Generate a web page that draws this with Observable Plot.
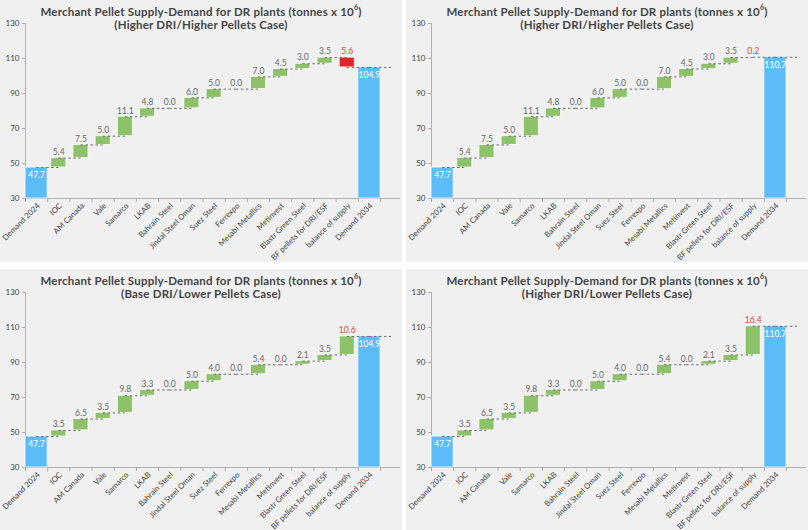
<!DOCTYPE html>
<html><head><meta charset="utf-8">
<script src="https://cdn.jsdelivr.net/npm/d3@7"></script>
<script src="https://cdn.jsdelivr.net/npm/@observablehq/plot@0.6"></script>
<style>
body{margin:0;background:#fff;font-family:Lato,"Open Sans",sans-serif;}
#wrap{position:relative;width:810px;height:530px;}
.panel{position:absolute;background:#f0f0f0;overflow:hidden;}
.panel svg{position:absolute;left:0;top:0;}
.title{position:absolute;left:0;right:0;text-align:center;font-weight:bold;font-size:11.5px;letter-spacing:0.2px;line-height:12px;height:12px;color:#444;z-index:2;white-space:nowrap;}
.title sup{font-size:7px;line-height:0;position:relative;top:1px;vertical-align:top;}
</style></head><body><div id="wrap"></div>
<script>
const categories = ["Demand 2024","IOC","AM Canada","Vale","Samarco","LKAB","Bahrain Steel","Jindal Steel Oman","Suez Steel","Ferrexpo","Mesabi Metallics","Metinvest","Blastr Green Steel","BF pellets for DRI/ESF","balance of supply","Demand 2034"];
const demand2024 = 47.7;
const supplyHigherPellets = [5.4, 7.5, 5.0, 11.1, 4.8, 0.0, 6.0, 5.0, 0.0, 7.0, 4.5, 3.0, 3.5];
const supplyLowerPellets = [3.5, 6.5, 3.5, 9.8, 3.3, 0.0, 5.0, 4.0, 0.0, 5.4, 0.0, 2.1, 3.5];
const caseNames = ["(Higher DRI/Higher Pellets Case)", "(Higher DRI/Higher Pellets Case)", "(Base DRI/Lower Pellets Case)", "(Higher DRI/Lower Pellets Case)"];
const caseSupply = [supplyHigherPellets, supplyHigherPellets, supplyLowerPellets, supplyLowerPellets];
const balanceOfSupply = [-5.6, 0.2, 10.6, 16.4];
const demand2034 = [104.9, 110.7, 104.9, 110.7];
const yTicks = [30, 50, 70, 90, 110, 130];

const BLUE = "#5cbcf8", GREEN = "#8dc16a", RED = "#e1262b", REDTEXT = "#e8452e";
const boxes = [[0,0,402,262],[406,0,402,262],[0,269,402,261],[406,269,402,261]];

function buildRows(supply, balance, total) {
  const rows = [];
  let level = demand2024;
  rows.push({i: 0, kind: "total", start: yTicks[0], end: demand2024, label: demand2024.toFixed(1)});
  supply.forEach((v, k) => {
    rows.push({i: k + 1, kind: "up", start: level, end: level + v, value: v, label: v.toFixed(1)});
    level += v;
  });
  rows.push({i: supply.length + 1, kind: balance < 0 ? "down" : "up", start: level, end: level + balance, value: balance, label: Math.abs(balance).toFixed(1), balance: true});
  rows.push({i: supply.length + 2, kind: "total", start: yTicks[0], end: total, label: total.toFixed(1)});
  return rows;
}

const wrap = document.getElementById("wrap");
caseNames.forEach((name, p) => {
  const rows = buildRows(caseSupply[p], balanceOfSupply[p], demand2034[p]);
  const totals = rows.filter(d => d.kind === "total");
  const steps = rows.filter(d => d.kind !== "total");
  const [left, top, w, h] = boxes[p];
  const div = document.createElement("div");
  div.className = "panel";
  Object.assign(div.style, {left: left + "px", top: top + "px", width: w + "px", height: h + "px"});
  const t1 = document.createElement("div");
  t1.className = "title";
  t1.style.top = "6px";
  t1.innerHTML = "Merchant Pellet Supply-Demand for DR plants (tonnes x 10<sup>6</sup>)";
  const t2 = document.createElement("div");
  t2.className = "title";
  t2.style.top = "19px";
  t2.textContent = name;
  div.appendChild(t1);
  div.appendChild(t2);
  const chart = Plot.plot({
    width: w, height: h,
    marginLeft: 25, marginRight: 2, marginTop: 23, marginBottom: h - 198,
    style: {background: "transparent", fontFamily: "Lato, 'Open Sans', sans-serif", fontSize: "8px", color: "#555"},
    x: {type: "linear", domain: [-0.5, 16.4]},
    y: {domain: [yTicks[0], yTicks[yTicks.length - 1]]},
    color: {type: "identity"},
    marks: [
      Plot.ruleX([-0.5], {stroke: "#b0b0b0"}),
      Plot.ruleY([yTicks[0]], {stroke: "#b0b0b0"}),
      Plot.rect(totals, {x1: d => d.i - 0.5, x2: d => d.i + 0.5, y1: "start", y2: "end", fill: BLUE, stroke: "#fff", strokeOpacity: 0.8}),
      Plot.rect(steps.filter(d => d.value !== 0), {x1: d => d.i - 0.34, x2: d => d.i + 0.34, y1: "start", y2: "end", fill: d => d.kind === "down" ? RED : GREEN, stroke: "#fff", strokeOpacity: 0.8}),
      Plot.ruleY(rows, {x1: "i", x2: d => d.i + 1, y: "end", stroke: "#6a6a6a", strokeWidth: 1, strokeDasharray: "2.5,2.5"}),
      Plot.text(steps, {x: "i", y: d => Math.max(d.start, d.end), dy: -6, text: "label", fill: d => d.balance ? REDTEXT : "#666", fontSize: 8.5}),
      Plot.text(totals, {x: "i", y: "end", dy: 8, text: "label", fill: "#fff", fontSize: 8.5}),
      Plot.axisY(yTicks, {tickSize: 3, tickPadding: 3, stroke: "#aaa", fill: "#444", fontSize: 8, label: null}),
      Plot.axisX(d3.range(categories.length + 1).map(k => k - 0.5), {tickSize: 4, tickFormat: () => "", stroke: "#aaa", label: null}),
      Plot.axisX(d3.range(categories.length), {tickSize: 0, tickPadding: 6, tickRotate: -45, dx: 2, tickFormat: i => categories[i], fill: "#444", fontSize: 7.8, label: null})
    ]
  });
  div.appendChild(chart);
  wrap.appendChild(div);
});
</script></body></html>
